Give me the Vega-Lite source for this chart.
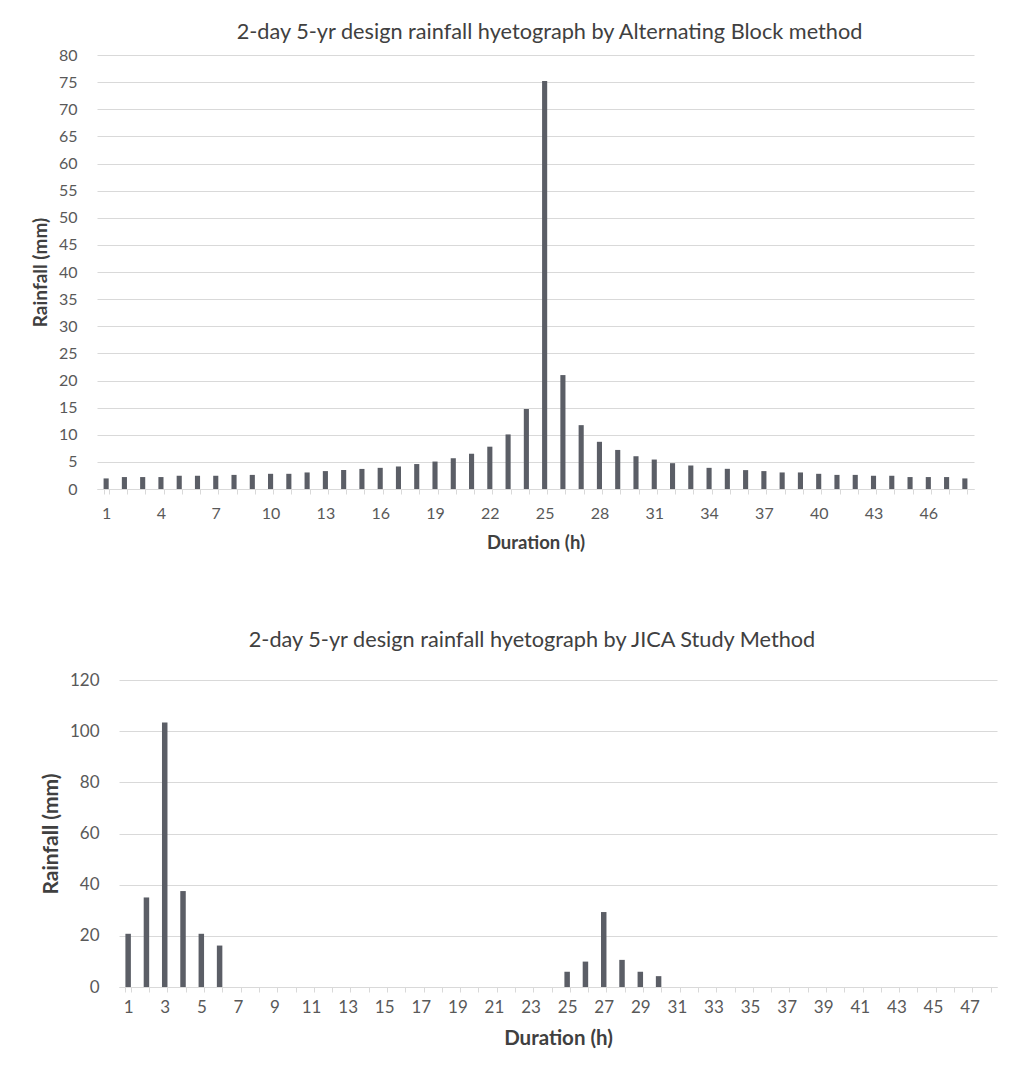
{
  "$schema": "https://vega.github.io/schema/vega-lite/v6.json",
  "background": "#ffffff",
  "padding": {"left": 31, "top": 22, "right": 5, "bottom": 5},
  "spacing": 78,
  "columns": 1,
  "align": "none",
  "datasets": {
    "ab": [
      {"h": 1, "mm": 1.95}, {"h": 2, "mm": 2.2}, {"h": 3, "mm": 2.2}, {"h": 4, "mm": 2.2},
      {"h": 5, "mm": 2.44}, {"h": 6, "mm": 2.44}, {"h": 7, "mm": 2.44}, {"h": 8, "mm": 2.6},
      {"h": 9, "mm": 2.6}, {"h": 10, "mm": 2.8}, {"h": 11, "mm": 2.8}, {"h": 12, "mm": 3.05},
      {"h": 13, "mm": 3.3}, {"h": 14, "mm": 3.5}, {"h": 15, "mm": 3.7}, {"h": 16, "mm": 3.9},
      {"h": 17, "mm": 4.15}, {"h": 18, "mm": 4.6}, {"h": 19, "mm": 5.06}, {"h": 20, "mm": 5.67},
      {"h": 21, "mm": 6.5}, {"h": 22, "mm": 7.8}, {"h": 23, "mm": 10.06}, {"h": 24, "mm": 14.75},
      {"h": 25, "mm": 75.2}, {"h": 26, "mm": 21.0}, {"h": 27, "mm": 11.77}, {"h": 28, "mm": 8.7},
      {"h": 29, "mm": 7.2}, {"h": 30, "mm": 6.04}, {"h": 31, "mm": 5.43}, {"h": 32, "mm": 4.76},
      {"h": 33, "mm": 4.33}, {"h": 34, "mm": 3.9}, {"h": 35, "mm": 3.72}, {"h": 36, "mm": 3.48},
      {"h": 37, "mm": 3.3}, {"h": 38, "mm": 3.05}, {"h": 39, "mm": 3.05}, {"h": 40, "mm": 2.8},
      {"h": 41, "mm": 2.6}, {"h": 42, "mm": 2.6}, {"h": 43, "mm": 2.44}, {"h": 44, "mm": 2.44},
      {"h": 45, "mm": 2.2}, {"h": 46, "mm": 2.2}, {"h": 47, "mm": 2.2}, {"h": 48, "mm": 1.95}
    ],
    "jica": [
      {"h": 1, "mm": 20.8}, {"h": 2, "mm": 35.0}, {"h": 3, "mm": 103.4}, {"h": 4, "mm": 37.5},
      {"h": 5, "mm": 20.8}, {"h": 6, "mm": 16.2}, {"h": 7, "mm": 0}, {"h": 8, "mm": 0},
      {"h": 9, "mm": 0}, {"h": 10, "mm": 0}, {"h": 11, "mm": 0}, {"h": 12, "mm": 0},
      {"h": 13, "mm": 0}, {"h": 14, "mm": 0}, {"h": 15, "mm": 0}, {"h": 16, "mm": 0},
      {"h": 17, "mm": 0}, {"h": 18, "mm": 0}, {"h": 19, "mm": 0}, {"h": 20, "mm": 0},
      {"h": 21, "mm": 0}, {"h": 22, "mm": 0}, {"h": 23, "mm": 0}, {"h": 24, "mm": 0},
      {"h": 25, "mm": 5.96}, {"h": 26, "mm": 9.93}, {"h": 27, "mm": 29.3}, {"h": 28, "mm": 10.6},
      {"h": 29, "mm": 5.96}, {"h": 30, "mm": 4.24}, {"h": 31, "mm": 0}, {"h": 32, "mm": 0},
      {"h": 33, "mm": 0}, {"h": 34, "mm": 0}, {"h": 35, "mm": 0}, {"h": 36, "mm": 0},
      {"h": 37, "mm": 0}, {"h": 38, "mm": 0}, {"h": 39, "mm": 0}, {"h": 40, "mm": 0},
      {"h": 41, "mm": 0}, {"h": 42, "mm": 0}, {"h": 43, "mm": 0}, {"h": 44, "mm": 0},
      {"h": 45, "mm": 0}, {"h": 46, "mm": 0}, {"h": 47, "mm": 0}, {"h": 48, "mm": 0}
    ]
  },
  "config": {
    "view": {"stroke": null},
    "font": "Lato",
    "title": {"font": "Lato", "fontSize": 21.7, "fontWeight": "normal", "color": "#404040", "anchor": "middle"},
    "axis": {
      "labelFont": "Lato",
      "titleFont": "Lato",
      "labelColor": "#595959",
      "titleColor": "#404040",
      "titleFontWeight": "bold",
      "gridColor": "#d9d9d9",
      "domainColor": "#d9d9d9",
      "tickColor": "#d9d9d9"
    }
  },
  "concat": [
    {
      "title": {"text": "2-day 5-yr design rainfall hyetograph by Alternating Block method", "offset": 3, "dx": 14},
      "width": 877,
      "height": 434,
      "data": {"name": "ab"},
      "mark": {"type": "bar", "color": "#5b5e66"},
      "encoding": {
        "x": {
          "field": "h",
          "type": "ordinal",
          "sort": "ascending",
          "scale": {"paddingInner": 0.72, "paddingOuter": 0.36},
          "axis": {
            "title": "Duration (h)",
            "titleFontSize": 18.5,
            "titlePadding": 12,
            "labelAngle": 0,
            "labelFontSize": 16,
            "labelPadding": 11,
            "tickSize": 5,
            "tickBand": "extent",
            "labelExpr": "(datum.value - 1) % 3 === 0 ? datum.label : ''"
          }
        },
        "y": {
          "field": "mm",
          "type": "quantitative",
          "scale": {"domain": [0, 80], "nice": false},
          "axis": {
            "title": "Rainfall (mm)",
            "titleFontSize": 19,
            "titlePadding": 8,
            "values": [0, 5, 10, 15, 20, 25, 30, 35, 40, 45, 50, 55, 60, 65, 70, 75, 80],
            "labelFontSize": 16,
            "labelPadding": 20,
            "ticks": false,
            "tickSize": 0,
            "domain": false,
            "grid": true
          }
        }
      }
    },
    {
      "title": {"text": "2-day 5-yr design rainfall hyetograph by JICA Study Method", "offset": 19, "dx": -15},
      "width": 900,
      "height": 307,
      "data": {"name": "jica"},
      "mark": {"type": "bar", "color": "#5b5e66"},
      "encoding": {
        "x": {
          "field": "h",
          "type": "ordinal",
          "sort": "ascending",
          "scale": {"range": [22, 900], "paddingInner": 0.7, "paddingOuter": 0.35},
          "axis": {
            "title": "Duration (h)",
            "titleFontSize": 20.5,
            "titlePadding": 13,
            "labelAngle": 0,
            "labelFontSize": 17,
            "labelPadding": 7,
            "tickSize": 5,
            "tickBand": "extent",
            "labelExpr": "(datum.value - 1) % 2 === 0 ? datum.label : ''"
          }
        },
        "y": {
          "field": "mm",
          "type": "quantitative",
          "scale": {"domain": [0, 120], "nice": false},
          "axis": {
            "title": "Rainfall (mm)",
            "titleFontSize": 21,
            "titlePadding": 8,
            "offset": -22,
            "values": [0, 20, 40, 60, 80, 100, 120],
            "labelFontSize": 17,
            "labelPadding": 20,
            "ticks": false,
            "tickSize": 0,
            "domain": false,
            "grid": true
          }
        }
      }
    }
  ]
}
